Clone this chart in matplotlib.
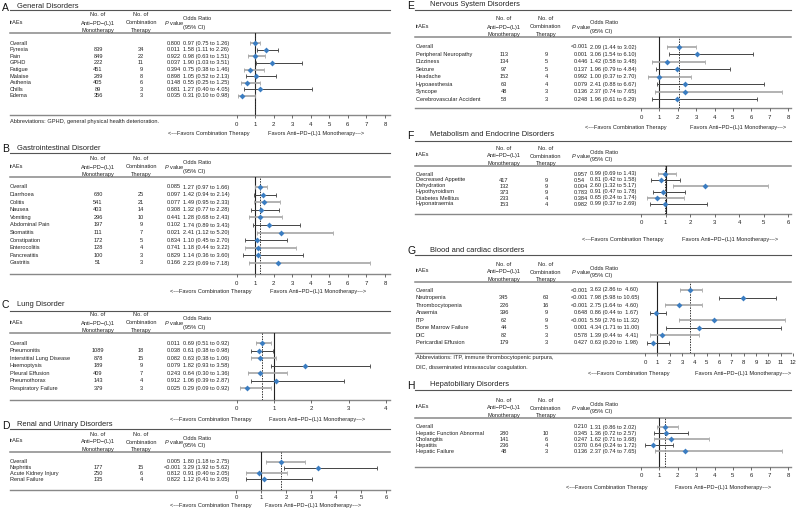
import matplotlib
matplotlib.use("Agg")
import matplotlib.pyplot as plt

plt.rcParams['font.family'] = ['Liberation Sans', 'DejaVu Sans']
plt.rcParams['mathtext.fontset'] = 'custom'
plt.rcParams['mathtext.it'] = 'Liberation Sans:italic'
plt.rcParams['mathtext.rm'] = 'Liberation Sans'

# ---- data -------------------------------------------------------------
# A  General Disorders
names_a = ["Overall", "Pyrexia", "Pain", "GPHD", "Fatigue", "Malaise", "Asthenia", "Chills", "Edema"]
mono_a = ["", "839", "849", "222", "451", "289", "405", "89", "356"]
comb_a = ["", "34", "22", "11", "9", "8", "6", "3", "3"]
p_a = ["0.800", "0.011", "0.922", "0.037", "0.394", "0.898", "0.148", "0.681", "0.035"]
or_a = [0.97, 1.58, 0.98, 1.90, 0.75, 1.05, 0.55, 1.27, 0.31]
lo_a = [0.75, 1.11, 0.63, 1.03, 0.38, 0.52, 0.25, 0.40, 0.10]
hi_a = [1.26, 2.26, 1.51, 3.51, 1.46, 2.13, 1.25, 4.05, 0.98]

# B  Gastrointestinal Disorder
names_b = ["Overall", "Diarrhoea", "Colitis", "Nausea", "Vomiting", "Abdominal Pain", "Stomatitis",
           "Constipation", "Enterocolitis", "Pancreatitis", "Gastritis"]
mono_b = ["", "680", "541", "403", "296", "197", "111", "172", "128", "100", "51"]
comb_b = ["", "25", "21", "14", "10", "9", "7", "5", "4", "3", "3"]
p_b = ["0.085", "0.097", "0.077", "0.308", "0.441", "0.102", "0.021", "0.834", "0.741", "0.829", "0.166"]
or_b = [1.27, 1.42, 1.49, 1.32, 1.28, 1.74, 2.41, 1.10, 1.18, 1.14, 2.23]
lo_b = [0.97, 0.94, 0.95, 0.77, 0.68, 0.89, 1.12, 0.45, 0.44, 0.36, 0.69]
hi_b = [1.66, 2.14, 2.33, 2.28, 2.43, 3.43, 5.20, 2.70, 3.22, 3.60, 7.18]

# C  Lung Disorder
names_c = ["Overall", "Pneumonitis", "Interstitial Lung Disease", "Haemoptysis", "Pleural Effusion",
           "Pneumothorax", "Respiratory Failure"]
mono_c = ["", "1089", "878", "189", "409", "143", "379"]
comb_c = ["", "18", "15", "9", "7", "4", "3"]
p_c = ["0.011", "0.038", "0.082", "0.079", "0.243", "0.912", "0.025"]
or_c = [0.69, 0.61, 0.63, 1.82, 0.64, 1.06, 0.29]
lo_c = [0.51, 0.38, 0.38, 0.93, 0.30, 0.39, 0.09]
hi_c = [0.92, 0.98, 1.06, 3.58, 1.36, 2.87, 0.92]

# D  Renal and Urinary Disorders
names_d = ["Overall", "Nephritis", "Acute Kidney Injury", "Renal Failure"]
mono_d = ["", "177", "250", "135"]
comb_d = ["", "15", "6", "4"]
p_d = ["0.005", "<0.001", "0.812", "0.822"]
or_d = [1.80, 3.29, 0.91, 1.12]
lo_d = [1.18, 1.92, 0.40, 0.41]
hi_d = [2.75, 5.62, 2.05, 3.05]

# E  Nervous System Disorders
names_e = ["Overall", "Peripheral Neuropathy", "Dizziness", "Seizure", "Headache", "Hypoaesthesia",
           "Syncope", "Cerebrovascular Accident"]
mono_e = ["", "113", "134", "97", "152", "63", "48", "58"]
comb_e = ["", "9", "5", "5", "4", "4", "3", "3"]
p_e = ["<0.001", "0.001", "0.446", "0.137", "0.992", "0.079", "0.136", "0.248"]
or_e = [2.09, 3.06, 1.42, 1.96, 1.00, 2.41, 2.37, 1.96]
lo_e = [1.44, 1.54, 0.58, 0.79, 0.37, 0.88, 0.74, 0.61]
hi_e = [3.02, 6.10, 3.48, 4.84, 2.70, 6.67, 7.65, 6.29]

# F  Metabolism and Endocrine Disorders
names_f = ["Overall", "Decreased Appetite", "Dehydration", "Hypothyroidism", "Diabetes Mellitus", "Hyponatraemia"]
mono_f = ["", "417", "132", "373", "233", "153"]
comb_f = ["", "9", "9", "9", "4", "4"]
p_f = ["0.957", "0.54", "0.004", "0.783", "0.384", "0.982"]
or_f = [0.99, 0.81, 2.60, 0.91, 0.65, 0.99]
lo_f = [0.69, 0.42, 1.32, 0.47, 0.24, 0.37]
hi_f = [1.43, 1.58, 5.17, 1.78, 1.74, 2.69]

# G  Blood and cardiac disorders
names_g = ["Overall", "Neutropenia", "Thrombocytopenia", "Anaemia", "ITP", "Bone Marrow Failure", "DIC",
           "Pericardial Effusion"]
mono_g = ["", "345", "226", "396", "62", "44", "82", "179"]
comb_g = ["", "63", "16", "9", "9", "5", "3", "3"]
p_g = ["<0.001", "<0.001", "<0.001", "0.648", "<0.001", "0.001", "0.578", "0.427"]
or_g = [3.63, 7.98, 2.75, 0.86, 5.59, 4.34, 1.39, 0.63]
lo_g = [2.86, 5.98, 1.64, 0.44, 2.76, 1.71, 0.44, 0.20]
hi_g = [4.60, 10.65, 4.60, 1.67, 11.32, 11.00, 4.41, 1.98]

# H  Hepatobiliary Disorders
names_h = ["Overall", "Hepatic Function Abnormal", "Cholangitis", "Hepatitis", "Hepatic Failure"]
mono_h = ["", "280", "141", "236", "48"]
comb_h = ["", "10", "6", "4", "3"]
p_h = ["0.210", "0.345", "0.247", "0.370", "0.136"]
or_h = [1.31, 1.36, 1.62, 0.64, 2.37]
lo_h = [0.86, 0.72, 0.71, 0.24, 0.74]
hi_h = [2.02, 2.57, 3.68, 1.72, 7.65]

# ---- layout (pixels, y from top) ---------------------------------------
W, H = 796, 524
BLUE = '#3b7dc1'
FS = 4.05

cols = {
    'L': dict(letter=2, title=17, line0=10, line1=390, name=10, mono=98, comb=141, p=166.5, ph=164.5, orx=183),
    'R': dict(letter=407, title=430, line0=415, line1=791, name=416, mono=504, comb=546, p=573.5, ph=571, orx=590.5),
}

panels = [
    dict(letter='A', title='General Disorders', col='L', ty=7, top=10, hl=33, row0=43.3, dy=6.55,
         bot=115, tick_y=125, arrow_y=134, xmax=8, x0=236.5, x1=385, arrows=(168, 268),
         data=(names_a, mono_a, comb_a, p_a, or_a, lo_a, hi_a),
         note=["Abbreviations: GPHD, general physical health deterioration."], note_y=122),
    dict(letter='B', title='Gastrointestinal Disorder', col='L', ty=148, top=153, hl=177, row0=187, dy=7.6,
         bot=274, tick_y=284, arrow_y=292, xmax=8, x0=236.5, x1=385, arrows=(170, 270),
         data=(names_b, mono_b, comb_b, p_b, or_b, lo_b, hi_b)),
    dict(letter='C', title='Lung Disorder', col='L', ty=304, top=311, hl=333, row0=343.3, dy=7.5,
         bot=400, tick_y=409, arrow_y=419, xmax=4, x0=236.5, x1=386, arrows=(170, 269),
         data=(names_c, mono_c, comb_c, p_c, or_c, lo_c, hi_c)),
    dict(letter='D', title='Renal and Urinary Disorders', col='L', ty=425, top=429, hl=452, row0=461.7, dy=5.8,
         bot=490, tick_y=498, arrow_y=506, xmax=6, x0=236, x1=386, arrows=(170, 265),
         data=(names_d, mono_d, comb_d, p_d, or_d, lo_d, hi_d)),
    dict(letter='E', title='Nervous System Disorders', col='R', ty=5, top=10, hl=37, row0=47, dy=7.43,
         bot=108, tick_y=118, arrow_y=128, xmax=8, x0=641, x1=788, arrows=(585, 690),
         data=(names_e, mono_e, comb_e, p_e, or_e, lo_e, hi_e)),
    dict(letter='F', title='Metabolism and Endocrine Disorders', col='R', ty=135, top=141, hl=166, row0=174, dy=6,
         bot=214, tick_y=223, arrow_y=239, xmax=6, x0=641, x1=788, arrows=(582, 682),
         data=(names_f, mono_f, comb_f, p_f, or_f, lo_f, hi_f)),
    dict(letter='G', title='Blood and cardiac disorders', col='R', ty=250, top=255, hl=282, row0=290, dy=7.57,
         bot=353, tick_y=363, arrow_y=373, xmax=12, x0=645, x1=793, arrows=(588, 695),
         data=(names_g, mono_g, comb_g, p_g, or_g, lo_g, hi_g),
         note=["Abbreviations: ITP, immune thrombocytopenic purpura,",
               "DIC, disseminated intravascular coagulation."], note_y=358),
    dict(letter='H', title='Hepatobiliary Disorders', col='R', ty=385, top=390, hl=418, row0=427, dy=6.1,
         bot=467, tick_y=476, arrow_y=487, xmax=8, x0=641, x1=788, arrows=(566, 675),
         data=(names_h, mono_h, comb_h, p_h, or_h, lo_h, hi_h)),
]

fig = plt.figure(figsize=(W / 100, H / 100), dpi=100)
bg = fig.add_axes([0, 0, 1, 1])
bg.set_xlim(0, W)
bg.set_ylim(H, 0)
bg.axis('off')


def txt(x, y, s, **kw):
    kw.setdefault('fontsize', FS)
    kw.setdefault('va', 'center')
    bg.text(x, y, s, color='#222222', **kw)


for pn in panels:
    c = cols[pn['col']]
    names, mono, comb, pv, ors, los, his = pn['data']
    top, hl, bot = pn['top'], pn['hl'], pn['bot']

    # title + rules
    bg.text(c['letter'], pn['ty'] + 1, pn['letter'], fontsize=7.5, va='center', color='#111111')
    txt(c['title'], pn['ty'], pn['title'], fontsize=5.4)
    bg.plot([c['line0'], c['line1']], [top, top], color='#555555', lw=0.8)
    bg.plot([c['line0'], c['line1']], [hl, hl], color='#888888', lw=1.1)
    bg.plot([c['line0'], c['line1']], [bot, bot], color='#888888', lw=1.0)

    # header
    h1, h2, h3 = hl - 18, hl - 10, hl - 2.5
    txt(c['name'], hl - 11, 'irAEs')
    for y, s in zip((h1, h2, h3), ('No. of', 'Anti\u2212PD\u2212(L)1', 'Monotherapy')):
        txt(c['mono'], y, s, ha='center')
    for y, s in zip((h1, h2, h3), ('No. of', 'Combination', 'Therapy')):
        txt(c['comb'], y, s, ha='center')
    txt(c['ph'], hl - 10, r'$\mathit{P}$ value')
    txt(c['orx'], hl - 14, 'Odds Ratio')
    txt(c['orx'], hl - 6, '(95% CI)')

    # rows
    wide = any(h >= 10 for h in his)
    ys = [pn['row0'] + i * pn['dy'] for i in range(len(names))]
    for i, y in enumerate(ys):
        txt(c['name'], y, names[i])
        txt(c['mono'], y, mono[i], ha='center')
        txt(c['comb'], y, comb[i], ha='center')
        txt(c['p'] - (2.5 if pv[i].startswith('<') else 0), y, pv[i])
        gap = '  ' if (wide and his[i] < 10) else ' '
        txt(c['orx'], y, f"{ors[i]:.2f} ({los[i]:.2f} to{gap}{his[i]:.2f})")

    for k, line in enumerate(pn.get('note', [])):
        txt(c['name'], pn['note_y'] + k * 9, line)

    txt(pn['arrows'][0], pn['arrow_y'], '<---Favors Combination Therapy')
    txt(pn['arrows'][1], pn['arrow_y'], 'Favors Anti\u2212PD\u2212(L)1 Monotherapy--->')

    # forest axes: x in odds ratio, y in pixels
    ax = fig.add_axes([pn['x0'] / W, 1 - bot / H, (pn['x1'] - pn['x0']) / W, (bot - hl) / H])
    ax.patch.set_alpha(0)
    ax.set_xlim(0, pn['xmax'])
    ax.set_ylim(bot, hl)
    for s in ax.spines.values():
        s.set_visible(False)
    ax.set_yticks([])
    ax.set_xticks(range(pn['xmax'] + 1))
    pad_px = pn['tick_y'] - 3 - bot - 2.8
    ax.tick_params(axis='x', length=2, width=0.6, color='#555555', labelsize=4.3,
                   labelcolor='#222222', pad=max(pad_px, 0.5) / 1.389)

    ax.axvline(1, color='#222222', lw=0.8)
    ax.axvline(ors[0], color='#333333', lw=0.7, ls=(0, (1.5, 1.2)))
    for i, y in enumerate(ys):
        col = '#a6a6a6' if i % 2 == 0 else '#444444'
        lw = 1.2 if i % 2 == 0 else 0.7
        ax.errorbar(ors[i], y, xerr=[[ors[i] - los[i]], [his[i] - ors[i]]], fmt='none',
                    ecolor=col, elinewidth=lw, capsize=1.3, capthick=0.6)
    ax.plot(ors, ys, 'D', color=BLUE, markersize=3.0, markeredgewidth=0, zorder=5)

fig.savefig('out.png', dpi=100)
